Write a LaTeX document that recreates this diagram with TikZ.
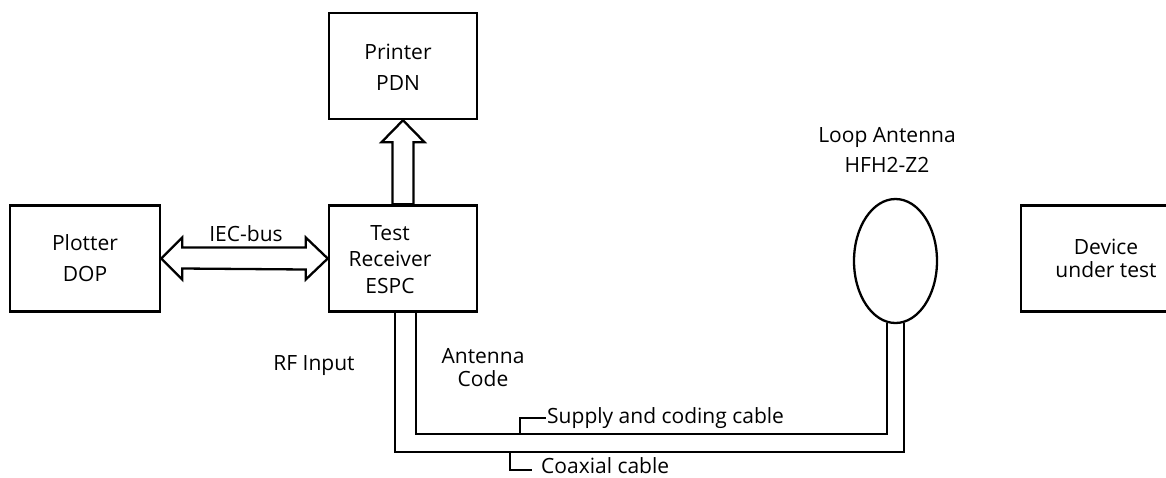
\documentclass[tikz,border=0pt]{standalone}
\usepackage{fontspec}
\setmainfont{Open Sans}
\usetikzlibrary{shapes.geometric,calc}
\begin{document}
\begin{tikzpicture}[x=1pt,y=-1pt,
  box/.style={draw, line width=2.5pt, minimum width=148pt, minimum height=106pt, align=center, inner sep=0pt, font=\fontsize{21}{31}\selectfont},
  lbl/.style={align=center, inner sep=1pt, font=\fontsize{21}{23}\selectfont},
  cable/.style={line width=2.3pt},
  leader/.style={line width=2pt},
  hollow/.style={draw, line width=2.3pt, line join=miter}]
\useasboundingbox (0,0) rectangle (1166,477);
% boxes
\node[box] (printer) at (403,66) {};
\node[lbl, font=\fontsize{21}{31}\selectfont] (printertxt) at ([xshift=-5pt,yshift=-1pt]printer.center) {Printer\\PDN};
\node[box] (rx) at (403,258.5) {};
\node[lbl, font=\fontsize{21}{26.5}\selectfont] (rxtxt) at ([xshift=-13pt,yshift=-1pt]rx.center) {Test\\Receiver\\ESPC};
\node[box, minimum width=150pt] (plotter) at (85,258.5) {Plotter\\DOP};
\node[box, minimum width=170pt, font=\fontsize{21}{23}\selectfont] (dut) at (1106,258.5) {Device\\under test};
\node[draw, ellipse, line width=2.3pt, minimum width=83pt, minimum height=124pt, inner sep=0pt] (loop) at (895.5,261) {};
% labels
\node[lbl, font=\fontsize{21}{30}\selectfont] (looplbl) at (887,150) {Loop Antenna\\HFH2-Z2};
\node[lbl] (iec) at (246,234) {IEC-bus};
\node[lbl] (rf) at (314,366) {RF Input};
\node[lbl] (code) at (483,368) {Antenna\\Code};
\node[lbl, anchor=west] (supply) at (546,418) {Supply and coding cable};
\node[lbl, anchor=west] (coax) at (540,466) {Coaxial cable};
% IEC-bus hollow double arrow
\draw[hollow] (plotter.east) -- ++(21,-21) -- ++(0,10)
  -- ($(rx.west)+(-22,-11)$) -- ++(0,-10) -- (rx.west) -- ++(-22,21) -- ++(0,-10)
  -- ($(plotter.east)+(21,10)$) -- ++(0,11) -- cycle;
% printer hollow arrow
\draw[hollow] (printer.south) -- ++(21.5,22) -- ++(-11,0) -- ($(rx.north)+(10.5,0)$)
  -- ++(-21,0) -- ($(printer.south)+(-10.5,22)$) -- ++(-11,0) -- cycle;
% cables
\coordinate (inner) at (650,434);
\coordinate (outer) at (650,452);
\draw[cable] ([xshift=13pt]rx.south) |- (inner) -| ([xshift=-8.5pt,yshift=1.3pt]loop.south);
\draw[cable] ([xshift=-8pt]rx.south) |- (outer) -| ([xshift=8.5pt,yshift=1.3pt]loop.south);
% leaders
\coordinate (sj) at (520,434);
\coordinate (cj) at (510,452);
\draw[leader] (sj) |- (supply.west);
\draw[leader] (cj) |- ([xshift=-8pt,yshift=-4pt]coax.west);
\end{tikzpicture}
\end{document}
